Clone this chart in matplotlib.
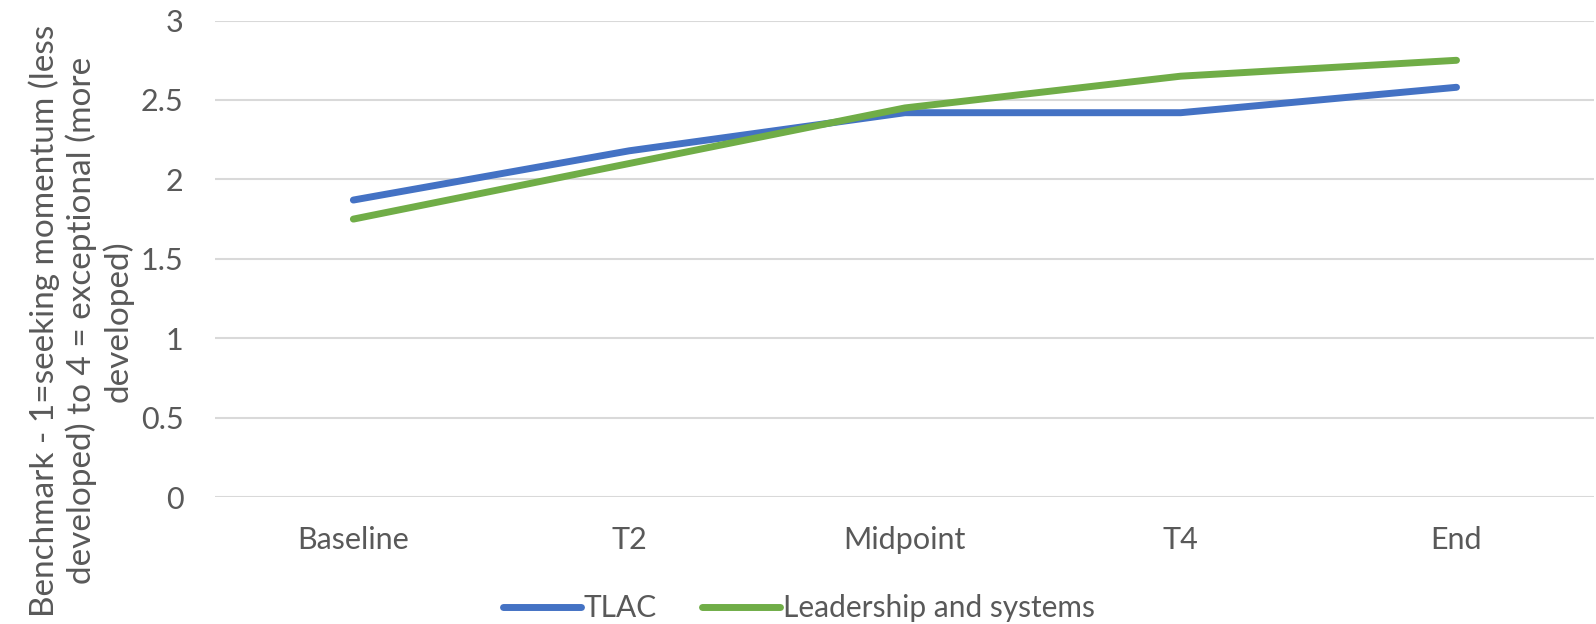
import matplotlib
matplotlib.use("Agg")
import matplotlib.pyplot as plt

categories = ["Baseline", "T2", "Midpoint", "T4", "End"]
tlac = [1.87, 2.18, 2.42, 2.42, 2.58]
leadership = [1.75, 2.10, 2.45, 2.65, 2.75]
series_names = ["TLAC", "Leadership and systems"]
yticks = [0, 0.5, 1, 1.5, 2, 2.5, 3]
ytick_labels = ["0", "0.5", "1", "1.5", "2", "2.5", "3"]
ylabel = "Benchmark - 1=seeking momentum (less\ndeveloped) to 4 = exceptional (more\ndeveloped)"

plt.rcParams['font.family'] = ['Lato', 'DejaVu Sans']
txt = "#595959"

fig = plt.figure(figsize=(15.96, 6.24), dpi=100)
ax = fig.add_axes([0.135, 0.2035, 0.864, 0.7635])
x = list(range(len(categories)))
ax.plot(x, tlac, color="#4472C4", lw=5, solid_capstyle="round", solid_joinstyle="round", label=series_names[0], zorder=3)
ax.plot(x, leadership, color="#70AD47", lw=5, solid_capstyle="round", solid_joinstyle="round", label=series_names[1], zorder=3)

ax.set_xlim(-0.5, len(categories) - 0.5)
ax.set_ylim(0, 3)
ax.set_yticks(yticks)
ax.set_yticklabels(ytick_labels)
ax.set_xticks(x)
ax.set_xticklabels(categories)
ax.tick_params(axis="both", length=0, labelsize=22, colors=txt)
ax.tick_params(axis="x", pad=21)
ax.tick_params(axis="y", pad=23)
ax.grid(axis="y", color="#D9D9D9", lw=1.5, zorder=0)
for s in ax.spines.values():
    s.set_visible(False)

ax.set_ylabel(ylabel, fontsize=24, color=txt, linespacing=1.22)
ax.yaxis.set_label_coords(-0.059, 0.37)

leg = fig.legend(loc="center", bbox_to_anchor=(0.5006, 0.025), ncol=2, frameon=False,
                 fontsize=21.5, handlelength=2.6, handletextpad=0.1, columnspacing=1.5,
                 labelcolor=txt)
for h in leg.get_lines():
    h.set_linewidth(5)
fig.savefig("out.png", dpi=100)
